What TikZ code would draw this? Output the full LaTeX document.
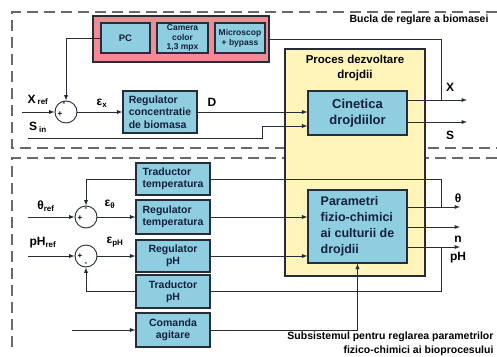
\documentclass[tikz,border=0pt]{standalone}
\usepackage{fontspec}
\setmainfont{Liberation Sans}
\usepackage{tikz}
\usetikzlibrary{arrows,positioning,calc}
\definecolor{boxblue}{RGB}{142,206,224}
\definecolor{measpink}{RGB}{240,140,150}
\definecolor{procyellow}{RGB}{255,245,186}
\definecolor{edgecol}{RGB}{38,44,56}
\definecolor{boxtext}{RGB}{20,32,60}
\definecolor{dashgray}{RGB}{105,105,105}
\newcommand{\fsz}[2]{\fontsize{#1}{#2}\selectfont\bfseries}
\tikzset{
  blk/.style={draw=edgecol, line width=1.1pt, fill=boxblue, inner sep=1pt, text=boxtext, font=\fsz{10.5}{12}},
  sumj/.style={draw=edgecol, circle, line width=0.9pt, minimum size=22pt, inner sep=0pt},
  wire/.style={draw=edgecol, line width=0.9pt},
  sig/.style={font=\fsz{12}{12}, inner sep=0pt},
  sgn/.style={font=\fsz{8}{8}, inner sep=0pt},
  frame/.style={draw=dashgray, line width=1.3pt, dash pattern=on 11pt off 6pt},
}

\begin{document}
\begin{tikzpicture}[x=1pt,y=-1pt,>=latex]
        \useasboundingbox (0,0) rectangle (497,356);
        \draw[frame] (497,12) -- (12,12) -- (12,148) -- (497,148);
        \draw[frame] (497,158) -- (12,158) -- (12,352);

        \node [font=\fsz{10.5}{12}, anchor=east] (bucla) at (492,20) {Bucla de reglare a biomasei};
        \node [font=\fsz{10.5}{13.5}, align=right, anchor=east] (subsist) at (497,344) {Subsistemul pentru reglarea parametrilor\\fizico-chimici ai bioprocesului};

        % masurare biomasa
        \node [draw=edgecol, line width=1.1pt, fill=measpink, minimum width=176pt, minimum height=46pt] (meas) at (181,39) {};
        \node [blk, minimum width=49pt, minimum height=30pt, font=\fsz{9.5}{10}] (pc) at (125.5,38) {PC};
        \node [blk, minimum width=51pt, minimum height=30pt, font=\fsz{8.5}{9.5}, align=center] (cam) at (182.5,38) {Camera\\color\\1,3 mpx};
        \node [blk, minimum width=50pt, minimum height=30pt, font=\fsz{8.5}{10}, align=center] (micro) at (240,38) {Microscop\\+ bypass};

        % proces
        \node [draw=edgecol, line width=1.3pt, fill=procyellow, minimum width=140pt, minimum height=227pt] (proc) at (355,162.5) {};
        \node [font=\fsz{11.5}{15}, align=center] (proctitle) at (355,68) {Proces dezvoltare\\drojdii};
        \node [blk, minimum width=99pt, minimum height=44pt, font=\fsz{13}{16}, align=center] (cin) at (357.5,113) {Cinetica\\drojdiilor};
        \node [blk, minimum width=99pt, minimum height=73pt, font=\fsz{12.5}{16}, align=left] (par) at (357.5,226.5) {Parametri\\fizio-chimici\\ai culturii de\\drojdii};

        % bucla biomasa
        \node [sumj] (sx) at (66,112) {};
        \node [sgn] (sxm) at (64,104) {-};
        \node [sgn] (sxp) at (60,114) {+};
        \node [blk, minimum width=74pt, minimum height=42pt, font=\fsz{10.5}{12.5}, align=left] (regx) at (160,112) {Regulator\\concentratie\\de biomasa};

        \node [sig] (xref) at (38,100) {X\,\textsubscript{ref}};
        \node [sig] (sin) at (38,127) {S\,\textsubscript{in}};
        \node [sig] (ex) at (102,103) {ε\textsubscript{x}};
        \node [sig] (dlab) at (212,102) {D};
        \node [sig] (xlab) at (450,87) {X};
        \node [sig] (slab) at (450,135) {S};

        \coordinate (xin) at (22,112);
        \coordinate (sinst) at (28,138);
        \coordinate (sinup) at (262,126);
        \coordinate (xout) at (467,100);
        \coordinate (sout) at (467,122);
        \coordinate (xfb) at (441,100);

        \draw [wire,->] (xin) -- (sx);
        \draw [wire,->] (sx) -- (regx);
        \draw [wire,->] (regx) -- (cin.west |- regx);
        \draw [wire,->] (sinst) -| (sinup) -- (cin.west |- sinup);
        \draw [wire,->] (cin.east |- xout) -- (xout);
        \draw [wire,->] (cin.east |- sout) -- (sout);
        \draw [wire] (xfb) |- (meas.east);
        \draw [wire,->] (pc.west) -| (sx.north);

        % subsistem parametri
        \node [blk, minimum width=74pt, minimum height=32pt, align=left] (trt) at (173,179) {Traductor\\temperatura};
        \node [blk, minimum width=74pt, minimum height=34pt, align=left] (regt) at (173,217) {Regulator\\temperatura};
        \node [blk, minimum width=74pt, minimum height=32pt, align=center] (regph) at (173,256) {Regulator\\pH};
        \node [blk, minimum width=74pt, minimum height=33pt, align=center] (trph) at (173,291.5) {Traductor\\pH};
        \node [blk, minimum width=74pt, minimum height=34pt, align=center] (com) at (173,330) {Comanda\\agitare};

        \node [sumj] (st) at (86,217) {};
        \node [sgn] (stm) at (86,209) {-};
        \node [sgn] (stp) at (80,218) {+};
        \node [sumj] (sph) at (86,256) {};
        \node [sgn] (sphp) at (80,256) {+};
        \node [sgn] (sphm) at (86,264) {-};

        \node [sig] (tref) at (46,206) {θ\textsubscript{ref}};
        \node [sig] (et) at (110,204) {ε\textsubscript{θ}};
        \node [sig] (phref) at (43,243) {pH\textsubscript{ref}};
        \node [sig] (eph) at (115,242) {ε\textsubscript{pH}};
        \node [sig] (tlab) at (458,198) {θ};
        \node [sig] (nlab) at (458,239) {n};
        \node [sig] (phlab) at (458,258) {pH};

        \coordinate (tin) at (28,217);
        \coordinate (phin) at (28,256);
        \coordinate (comin) at (72,330);
        \coordinate (tout) at (460,207);
        \coordinate (nout) at (460,227);
        \coordinate (phout) at (460,247);
        \coordinate (tfb) at (441,207);
        \coordinate (tfbup) at (441,179);
        \coordinate (phfb) at (441,247);
        \coordinate (phfbdn) at (441,291.5);

        \draw [wire,->] (tin) -- (st);
        \draw [wire,->] (st) -- (regt);
        \draw [wire,->] (regt) -- (par.west |- regt);
        \draw [wire,->] (phin) -- (sph);
        \draw [wire,->] (sph) -- (regph);
        \draw [wire,->] (regph) -- (par.west |- regph);
        \draw [wire,->] (par.east |- tout) -- (tout);
        \draw [wire,->] (par.east |- nout) -- (nout);
        \draw [wire,->] (par.east |- phout) -- (phout);
        \draw [wire] (tfb) -- (tfbup) -- (trt.east);
        \draw [wire,->] (trt.west) -| (st.north);
        \draw [wire] (phfb) -- (phfbdn) -- (trph.east);
        \draw [wire,->] (trph.west) -| (sph.south);
        \draw [wire,->] (comin) -- (com);
        \draw [wire,->] (com.east) -| (par.south);
      \end{tikzpicture}
\end{document}
